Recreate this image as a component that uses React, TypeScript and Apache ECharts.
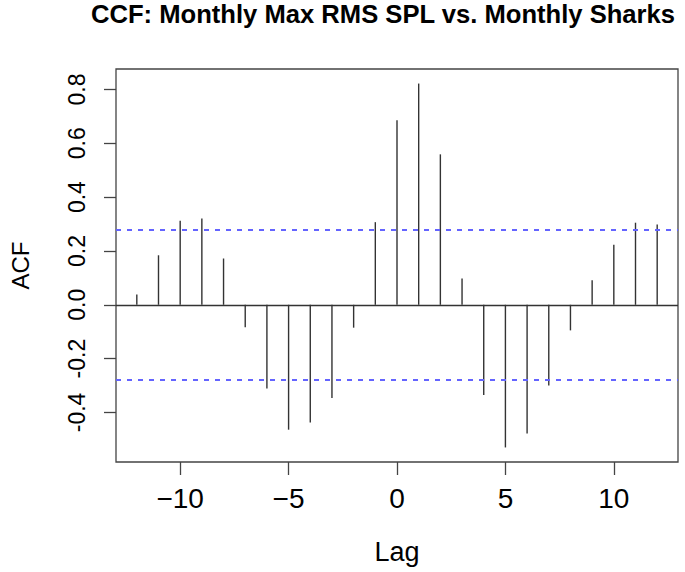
import React, { useEffect, useRef } from "react";
import * as echarts from "echarts";

const titleText = "CCF: Monthly Max RMS SPL vs. Monthly Sharks";
const lags = [-12, -11, -10, -9, -8, -7, -6, -5, -4, -3, -2, -1, 0, 1, 2, 3, 4, 5, 6, 7, 8, 9, 10, 11, 12];
const acfValues = [
  0.038, 0.184, 0.312, 0.321, 0.172, -0.083, -0.311, -0.464, -0.437, -0.346, -0.085, 0.307,
  0.686, 0.822, 0.559, 0.098, -0.335, -0.530, -0.478, -0.300, -0.095, 0.091, 0.223, 0.305, 0.298,
];
const ciBound = 0.278;
const xTicks = [-10, -5, 0, 5, 10];
const yTicks = [-0.4, -0.2, 0.0, 0.2, 0.4, 0.6, 0.8];

const FONT = "'Liberation Sans', Arial, Helvetica, sans-serif";

export default function App() {
  const ref = useRef<HTMLDivElement>(null);

  useEffect(() => {
    if (!ref.current) return;
    const chart = echarts.init(ref.current, null, { renderer: "svg" });

    const xMinData = Math.min(...lags);
    const xMaxData = Math.max(...lags);
    const xPad = (xMaxData - xMinData) * 0.04;
    const yMinData = Math.min(...acfValues);
    const yMaxData = Math.max(...acfValues);
    const yPad = (yMaxData - yMinData) * 0.04;

    const data = lags.map((l, i) => [l, acfValues[i]]);

    chart.setOption({
      animation: false,
      backgroundColor: "#ffffff",
      title: {
        text: titleText,
        left: 91,
        top: 1,
        padding: 0,
        textStyle: { fontFamily: FONT, fontWeight: "bold", fontSize: 25.6, color: "#000" },
      },
      grid: {
        left: 112,
        right: 7,
        top: 69,
        bottom: 110,
        show: true,
        borderColor: "#444",
        borderWidth: 1.3,
        containLabel: false,
      },
      xAxis: {
        type: "value",
        min: xMinData - xPad,
        max: xMaxData + xPad,
        name: "Lag",
        nameLocation: "middle",
        nameGap: 76,
        nameTextStyle: { fontFamily: FONT, fontSize: 27, color: "#000" },
        axisLine: { show: false, onZero: false },
        splitLine: { show: false },
        axisTick: {
          show: true,
          length: 13,
          customValues: xTicks,
          lineStyle: { color: "#444", width: 1.3 },
        },
        axisLabel: {
          customValues: xTicks,
          margin: 22,
          fontFamily: FONT,
          fontSize: 28,
          color: "#000",
          formatter: (v: number) => (v < 0 ? "\u2212" + Math.abs(v) : String(v)),
        },
      },
      yAxis: {
        type: "value",
        min: yMinData - yPad,
        max: yMaxData + yPad,
        name: "ACF",
        nameLocation: "middle",
        nameRotate: 90,
        nameGap: 84,
        nameTextStyle: { fontFamily: FONT, fontSize: 24, color: "#000" },
        axisLine: { show: false, onZero: false },
        splitLine: { show: false },
        axisTick: {
          show: true,
          length: 12,
          customValues: yTicks,
          lineStyle: { color: "#444", width: 1.3 },
        },
        axisLabel: {
          customValues: yTicks,
          rotate: 90,
          margin: 28,
          fontFamily: FONT,
          fontSize: 23,
          color: "#000",
          formatter: (v: number) => v.toFixed(1),
        },
      },
      series: [
        {
          type: "custom",
          data,
          encode: { x: 0, y: 1 },
          renderItem: (params: any, api: any) => {
            const x = api.value(0);
            const y = api.value(1);
            const p0 = api.coord([x, 0]);
            const p1 = api.coord([x, y]);
            return {
              type: "line",
              shape: { x1: p0[0], y1: p0[1], x2: p1[0], y2: p1[1] },
              style: { stroke: "#333", lineWidth: 1.4 },
            };
          },
          markLine: {
            silent: true,
            symbol: ["none", "none"],
            label: { show: false },
            data: [
              { yAxis: 0, lineStyle: { color: "#333", type: "solid", width: 1.4 } },
              { yAxis: ciBound, lineStyle: { color: "#6464ff", type: [5, 6], width: 2 } },
              { yAxis: -ciBound, lineStyle: { color: "#6464ff", type: [5, 6], width: 2 } },
            ],
          },
        },
      ],
    });

    return () => chart.dispose();
  }, []);

  return (
    <div
      ref={ref}
      style={{ position: "fixed", left: 0, top: 0, width: 685, height: 572, background: "#fff" }}
    />
  );
}
